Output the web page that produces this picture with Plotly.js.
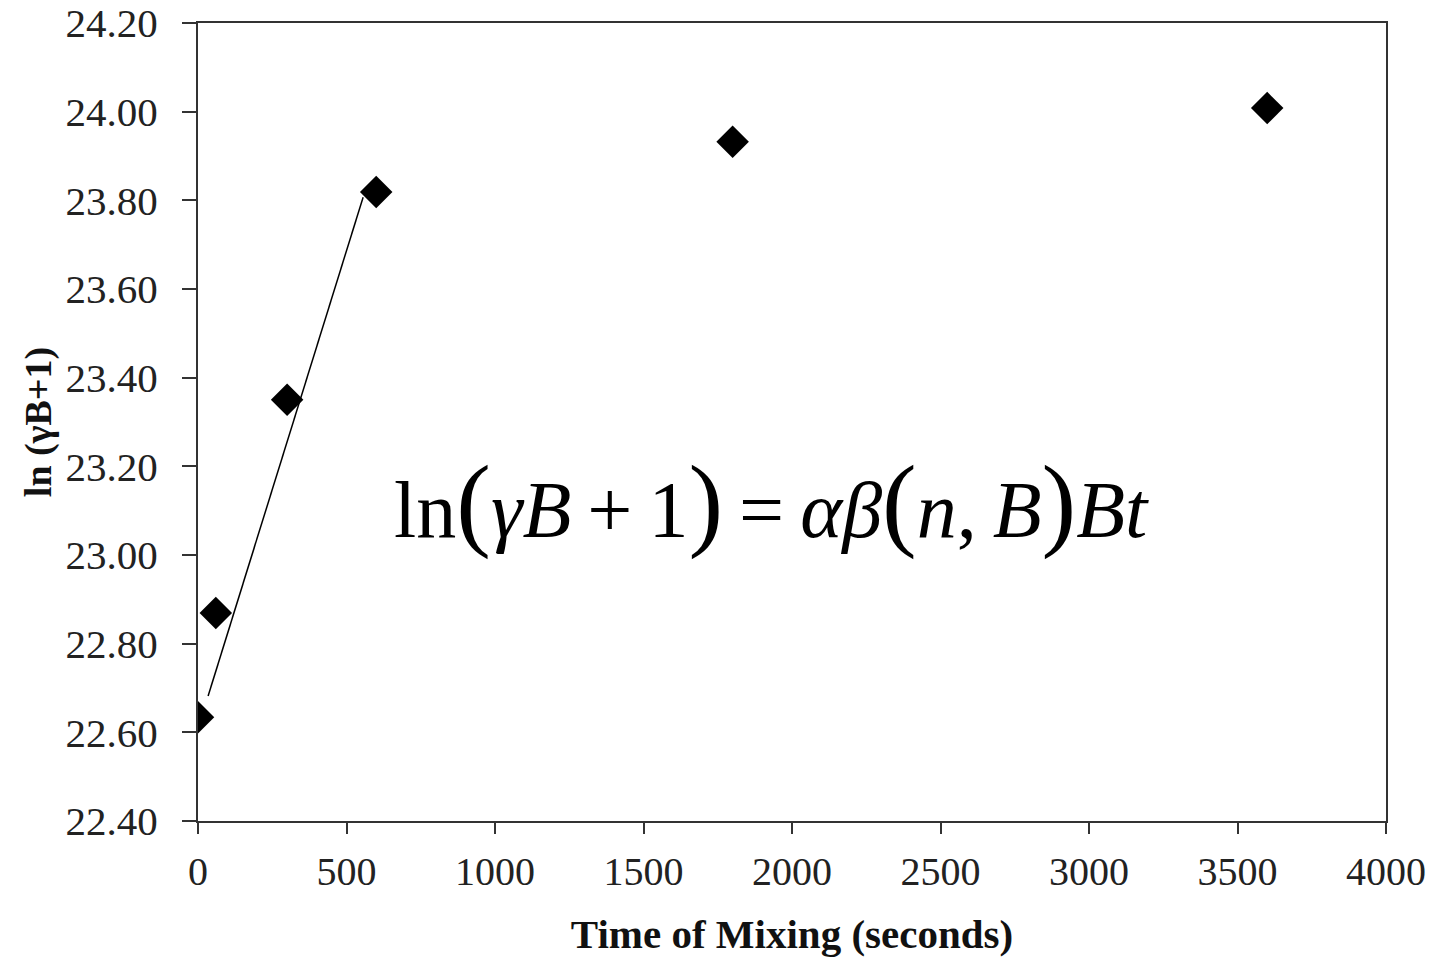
<!DOCTYPE html>
<html>
<head>
<meta charset="utf-8">
<script src="https://cdn.plot.ly/plotly-3.0.1.min.js"></script>
<style>html,body{margin:0;padding:0;background:#fff;}#chart{width:1430px;height:958px;}</style>
</head>
<body>
<div id="chart"></div>
<script>
const timeSec = [0, 60, 300, 600, 1800, 3600];
const lnGammaB = [22.634, 22.869, 23.350, 23.819, 23.932, 24.008];
const fitX = [34, 556];
const fitY = [22.682, 23.807];
const xTickVals = [0, 500, 1000, 1500, 2000, 2500, 3000, 3500, 4000];
const yTickVals = [22.4, 22.6, 22.8, 23.0, 23.2, 23.4, 23.6, 23.8, 24.0, 24.2];
const xTitle = 'Time of Mixing (seconds)';
const yTitle = 'ln (γB+1)';
const P = s => '<span style="font-size:104px">' + s + '</span>';
const eqText = 'ln' + P('(') + '<i>γB</i>\u2009+\u20091' + P(')') + '\u2009=\u2009<i>αβ</i>' + P('(') + '<i>n</i>,\u2009<i>B</i>' + P(')') + '<i>Bt</i>';

const serif = 'Liberation Serif, Times New Roman, serif';
const data = [
  {x: fitX, y: fitY, type: 'scatter', mode: 'lines', line: {color: '#000', width: 1.5}, hoverinfo: 'skip'},
  {x: timeSec, y: lnGammaB, type: 'scatter', mode: 'markers',
   marker: {symbol: 'diamond', size: 25, color: '#000', line: {width: 0}}}
];
const layout = {
  width: 1430, height: 958,
  margin: {l: 198, r: 44, t: 23, b: 137},
  paper_bgcolor: '#fff', plot_bgcolor: '#fff',
  showlegend: false,
  font: {family: serif, color: '#222'},
  xaxis: {
    range: [0, 4000], tickvals: xTickVals, ticktext: xTickVals.map(String),
    showgrid: false, zeroline: false,
    showline: true, linecolor: '#333', linewidth: 2, mirror: true,
    ticks: 'outside', ticklen: 11, tickwidth: 2, tickcolor: '#333',
    ticklabelstandoff: 3,
    tickfont: {family: serif, size: 40, color: '#222'},
    title: {text: '<b>' + xTitle + '</b>', font: {family: serif, size: 41, color: '#111'}, standoff: 26}
  },
  yaxis: {
    range: [22.4, 24.2], tickvals: yTickVals, ticktext: yTickVals.map(v => v.toFixed(2)),
    showgrid: false, zeroline: false,
    showline: true, linecolor: '#333', linewidth: 2, mirror: true,
    ticks: 'outside', ticklen: 14, tickwidth: 2, tickcolor: '#333',
    ticklabelstandoff: 16,
    tickfont: {family: serif, size: 41, color: '#222'},
    title: {text: '<b>' + yTitle + '</b>', font: {family: serif, size: 38, color: '#111'}, standoff: 2}
  },
  annotations: [{
    x: 0.483, y: 0.40, xref: 'paper', yref: 'paper', xanchor: 'center', yanchor: 'middle',
    text: eqText, showarrow: false,
    font: {family: serif, size: 80, color: '#000'}
  }]
};
Plotly.newPlot('chart', data, layout, {displayModeBar: false, staticPlot: true});
</script>
</body>
</html>
